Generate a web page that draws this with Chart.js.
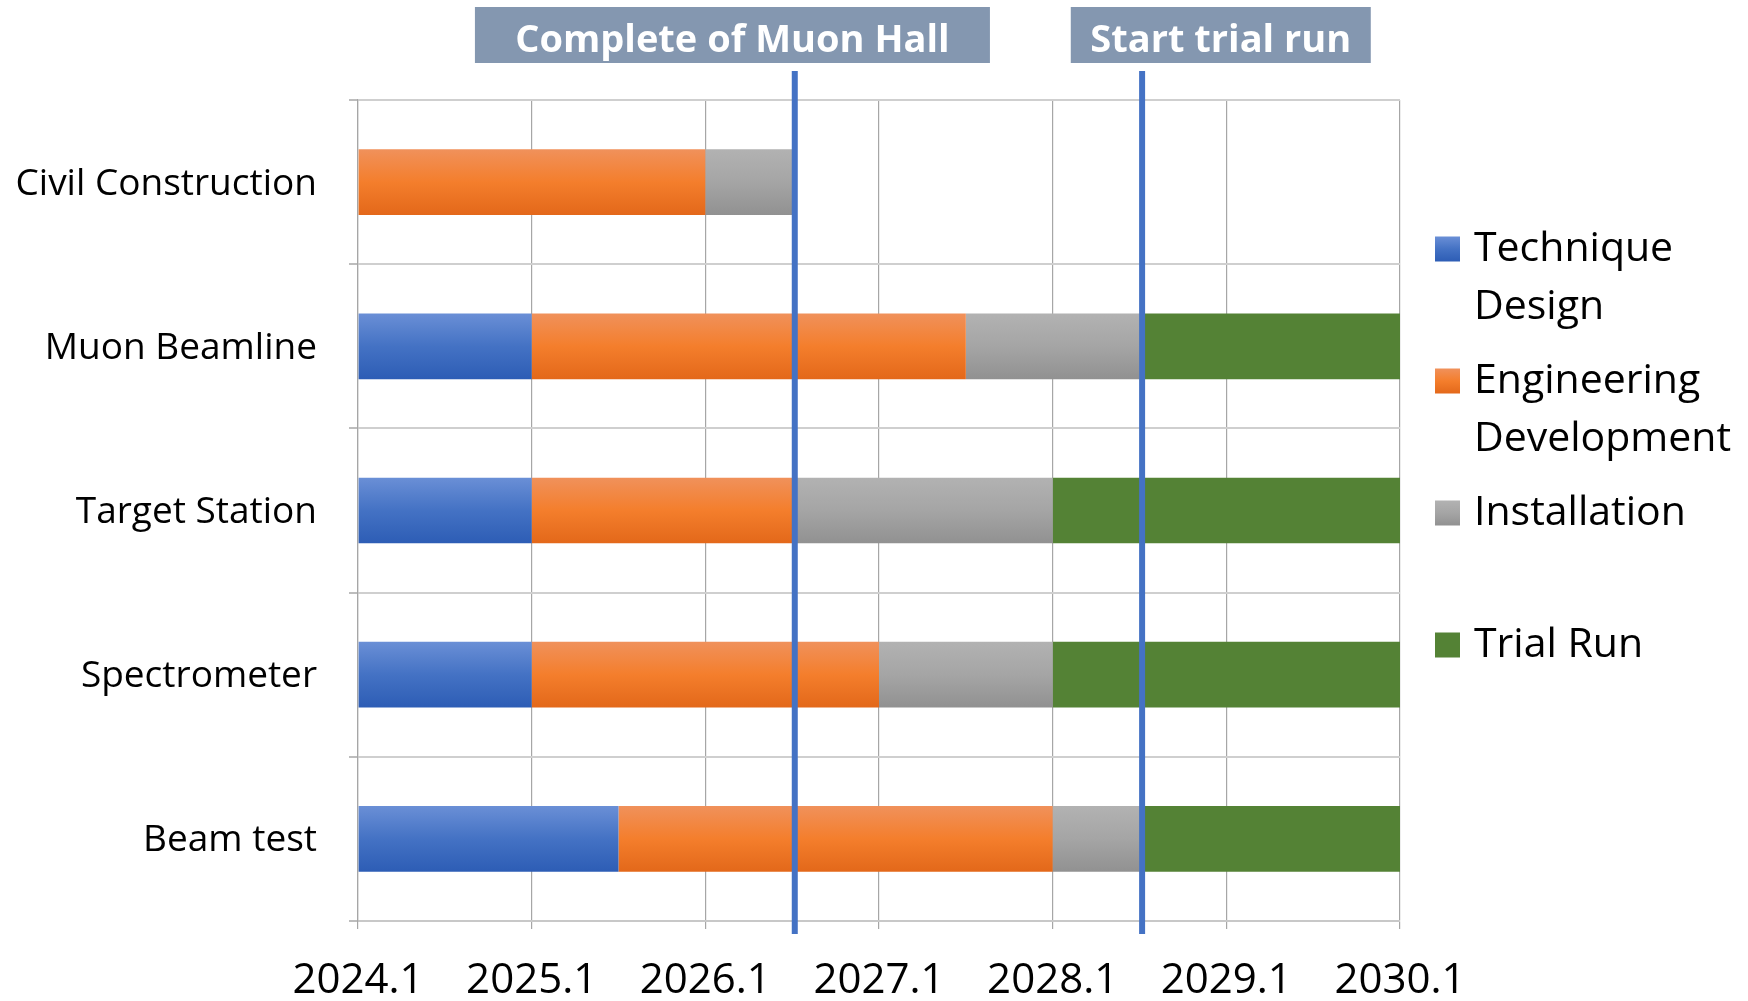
<!DOCTYPE html>
<html><head><meta charset="utf-8">
<script src="https://cdn.jsdelivr.net/npm/chart.js@4"></script>
<style>html,body{margin:0;padding:0;background:#fff}#wrap{width:1748px;height:1001px}</style>
</head><body><div id="wrap"><canvas id="c" width="1748" height="1001"></canvas></div>
<script>
// ---- data ----
const categories = ['Civil Construction', 'Muon Beamline', 'Target Station', 'Spectrometer', 'Beam test'];
const seriesNames = ['Technique Design', 'Engineering Development', 'Installation', 'Trial Run'];
// durations in years, starting from 2024.1
const techniqueDesign = [0, 1, 1, 1, 1.5];
const engineeringDevelopment = [2, 2.5, 1.5, 2, 2.5];
const installation = [0.5, 1, 1.5, 1, 0.5];
const trialRun = [0, 1.5, 2, 2, 1.5];
const xTickLabels = ['2024.1', '2025.1', '2026.1', '2027.1', '2028.1', '2029.1', '2030.1'];
const milestoneLabels = ['Complete of Muon Hall', 'Start trial run'];
const milestoneAt = [2.515, 4.515];

// ---- styles ----
const FONT = '"Open Sans", "Noto Sans", sans-serif';
const seriesStops = [
  ['#6a8fd6', '#4472c4', '#2d5db5'],
  ['#f0915b', '#f47e2c', '#e3681a'],
  ['#b2b2b2', '#a5a5a5', '#919191'],
  ['#548235', '#548235', '#548235']
];
const BAR_FRACTION = 0.4;
const annoBox = [ {cx: 2.156, w: 515}, {cx: 4.968, w: 300} ];

function gradFor(stops) {
  return (ctx) => {
    const chart = ctx.chart;
    const ys = chart.scales && chart.scales.y;
    if (!ys || ctx.type !== 'data' || !ys.height) return stops[1];
    const c = ys.getPixelForValue(ctx.dataIndex);
    const h = (ys.height / categories.length) * BAR_FRACTION;
    const g = chart.ctx.createLinearGradient(0, c - h / 2, 0, c + h / 2);
    g.addColorStop(0, stops[0]); g.addColorStop(0.5, stops[1]); g.addColorStop(1, stops[2]);
    return g;
  };
}

const seriesData = [techniqueDesign, engineeringDevelopment, installation, trialRun];

const milestonePlugin = {
  id: 'milestones',
  afterDatasetsDraw(chart) {
    const {ctx, chartArea, scales} = chart;
    ctx.save();
    milestoneAt.forEach((v, i) => {
      const x = scales.x.getPixelForValue(v);
      ctx.strokeStyle = '#4472c4';
      ctx.lineWidth = 6;
      ctx.beginPath();
      ctx.moveTo(x, chartArea.top - 29);
      ctx.lineTo(x, chartArea.bottom + 13);
      ctx.stroke();
      const b = annoBox[i];
      const cx = scales.x.getPixelForValue(b.cx);
      ctx.fillStyle = '#8497b0';
      ctx.fillRect(cx - b.w / 2, 7, b.w, 56);
      ctx.fillStyle = '#ffffff';
      ctx.font = 'bold 38px ' + FONT;
      ctx.textAlign = 'center';
      ctx.textBaseline = 'middle';
      ctx.fillText(milestoneLabels[i], cx, 41);
    });
    ctx.restore();
  }
};

const legendPlugin = {
  id: 'customLegend',
  afterDraw(chart) {
    const {ctx, chartArea} = chart;
    const boxX = chartArea.right + 35, textX = chartArea.right + 74;
    const maxW = chart.width - textX;
    ctx.save();
    ctx.font = '41px ' + FONT;
    ctx.textAlign = 'left';
    ctx.textBaseline = 'middle';
    chart.data.datasets.forEach((ds, i) => {
      const y0 = chartArea.top + 149 + i * 132;
      const st = seriesStops[i];
      const g = ctx.createLinearGradient(0, y0 - 12.5, 0, y0 + 12.5);
      g.addColorStop(0, st[0]); g.addColorStop(0.5, st[1]); g.addColorStop(1, st[2]);
      ctx.fillStyle = g;
      ctx.fillRect(boxX, y0 - 12.5, 25, 25);
      const words = ds.label.split(' ');
      const lines = [];
      let cur = '';
      words.forEach(w => {
        const t = cur ? cur + ' ' + w : w;
        if (ctx.measureText(t).width > maxW && cur) { lines.push(cur); cur = w; } else cur = t;
      });
      if (cur) lines.push(cur);
      ctx.fillStyle = '#000';
      lines.forEach((l, k) => ctx.fillText(l, textX, y0 + k * 58));
    });
    ctx.restore();
  }
};

new Chart(document.getElementById('c'), {
  type: 'bar',
  data: {
    labels: categories,
    datasets: seriesData.map((d, i) => ({
      label: seriesNames[i],
      data: d,
      backgroundColor: gradFor(seriesStops[i]),
      borderWidth: 0,
      barPercentage: BAR_FRACTION,
      categoryPercentage: 1.0
    }))
  },
  options: {
    indexAxis: 'y',
    responsive: false,
    animation: false,
    devicePixelRatio: 1,
    layout: { padding: { top: 100, right: 348, left: 0, bottom: 0 } },
    plugins: { legend: { display: false }, tooltip: { enabled: false } },
    scales: {
      x: {
        type: 'linear', min: 0, max: 6, stacked: true,
        afterFit: (s) => { s.height = 80; },
        grid: { color: '#a6a6a6', lineWidth: 1.2, tickLength: 8, tickColor: '#a6a6a6' },
        border: { display: true, color: '#c8c8c8', width: 2 },
        ticks: {
          stepSize: 1, padding: 27, color: '#000',
          font: { family: FONT, size: 42 },
          callback: (v) => xTickLabels[v]
        }
      },
      y: {
        type: 'category', stacked: true, offset: true,
        afterFit: (s) => { s.width = 358; },
        grid: { offset: true, color: '#cfcfcf', lineWidth: 2, tickLength: 9, tickColor: '#bdbdbd' },
        border: { display: true, color: '#a6a6a6', width: 1.2 },
        ticks: { padding: 32, labelOffset: 2, color: '#000', font: { family: FONT, size: 37, lineHeight: 1.1 } }
      }
    }
  },
  plugins: [milestonePlugin, legendPlugin]
});
</script>
</body></html>
